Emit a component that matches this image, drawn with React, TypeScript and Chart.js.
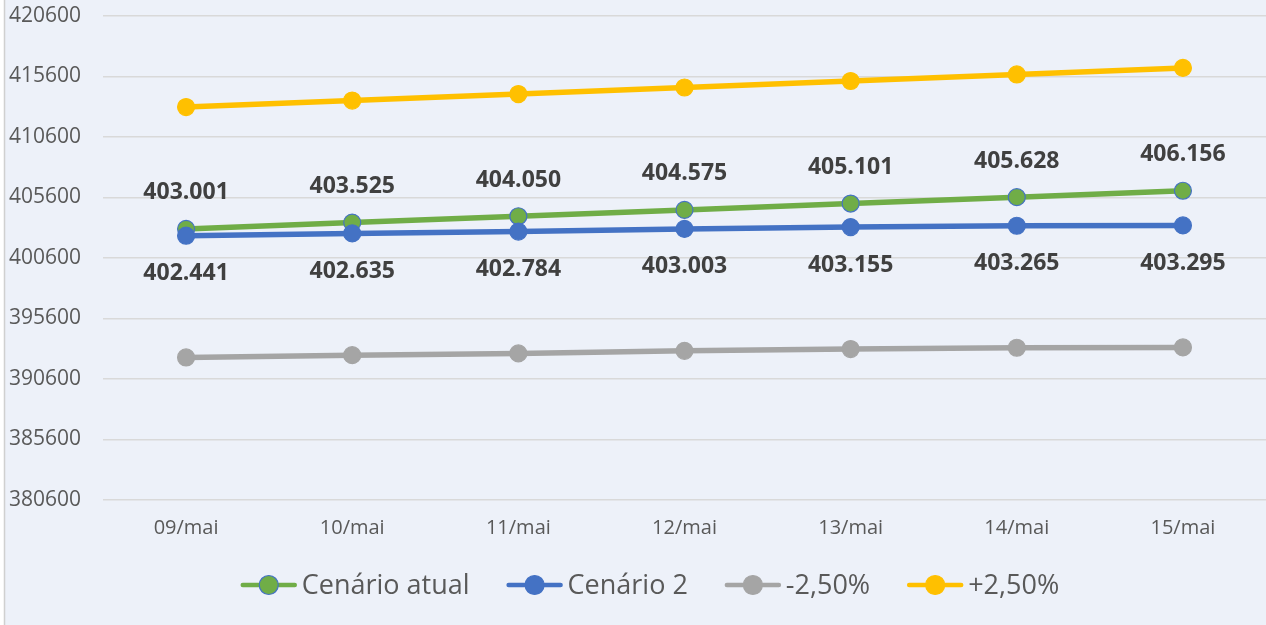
import React, { useEffect, useRef } from "react";
import { Chart, registerables } from "chart.js";

Chart.register(...registerables);

const categories = ["09/mai", "10/mai", "11/mai", "12/mai", "13/mai", "14/mai", "15/mai"];
const cenarioAtual = [403001, 403525, 404050, 404575, 405101, 405628, 406156];
const cenario2 = [402441, 402635, 402784, 403003, 403155, 403265, 403295];
const menos250 = [392380, 392569, 392714, 392928, 393076, 393183, 393213];
const mais250 = [413076, 413613, 414151, 414689, 415229, 415769, 416310];
const seriesNames = ["Cenário atual", "Cenário 2", "-2,50%", "+2,50%"];
const yMin = 380600;
const yMax = 420600;
const yStep = 5000;

const GREEN = "#70AD47";
const BLUE = "#4472C4";
const GRAY = "#A5A5A5";
const YELLOW = "#FFC000";
const FONT = "'Open Sans', 'Noto Sans', sans-serif";

const fmt = (v: number) => String(v).replace(/\B(?=(\d{3})+(?!\d))/g, ".");

const bgPlugin = {
  id: "bgPlugin",
  beforeDraw(chart: any) {
    const { ctx, width, height } = chart;
    ctx.save();
    ctx.fillStyle = "#FFFFFF";
    ctx.fillRect(0, 0, width, height);
    ctx.fillStyle = "#EDF1F9";
    ctx.fillRect(5, 0, width - 5, height);
    ctx.strokeStyle = "#D0D0D0";
    ctx.lineWidth = 1.5;
    ctx.beginPath();
    ctx.moveTo(4.5, 0);
    ctx.lineTo(4.5, height);
    ctx.stroke();
    ctx.restore();
  },
};

const labelPlugin = {
  id: "labelPlugin",
  afterDatasetsDraw(chart: any) {
    const { ctx } = chart;
    ctx.save();
    ctx.font = `bold 23px ${FONT}`;
    ctx.fillStyle = "#404040";
    ctx.textAlign = "center";
    ctx.textBaseline = "middle";
    const specs = [
      { idx: 0, dy: -36 },
      { idx: 1, dy: 38 },
    ];
    specs.forEach((s) => {
      const meta = chart.getDatasetMeta(s.idx);
      const data = chart.data.datasets[s.idx].data as number[];
      meta.data.forEach((pt: any, i: number) => {
        ctx.fillText(fmt(data[i]), pt.x, pt.y + s.dy);
      });
    });
    ctx.restore();
  },
};

const legendPlugin = {
  id: "customLegend",
  afterDraw(chart: any) {
    const { ctx } = chart;
    const items = [
      { name: seriesNames[0], color: GREEN, border: BLUE },
      { name: seriesNames[1], color: BLUE, border: BLUE },
      { name: seriesNames[2], color: GRAY, border: GRAY },
      { name: seriesNames[3], color: YELLOW, border: YELLOW },
    ];
    ctx.save();
    ctx.font = `27px ${FONT}`;
    const segW = 56;
    const gapText = 5;
    const gapItem = 37;
    const widths = items.map((it) => segW + gapText + ctx.measureText(it.name).width);
    const total = widths.reduce((a, b) => a + b, 0) + gapItem * (items.length - 1);
    let x = 650 - total / 2;
    const y = 585;
    items.forEach((it, i) => {
      ctx.strokeStyle = it.color;
      ctx.lineWidth = 4.5;
      ctx.lineCap = "round";
      ctx.beginPath();
      ctx.moveTo(x + 2, y);
      ctx.lineTo(x + segW - 2, y);
      ctx.stroke();
      ctx.beginPath();
      ctx.arc(x + segW / 2, y, 9.5, 0, Math.PI * 2);
      ctx.fillStyle = it.color;
      ctx.fill();
      ctx.lineWidth = 1.2;
      ctx.strokeStyle = it.border;
      ctx.stroke();
      ctx.fillStyle = "#595959";
      ctx.textAlign = "left";
      ctx.textBaseline = "middle";
      ctx.fillText(it.name, x + segW + gapText, y + 1);
      x += widths[i] + gapItem;
    });
    ctx.restore();
  },
};

export default function App() {
  const ref = useRef<HTMLCanvasElement | null>(null);
  useEffect(() => {
    document.body.style.margin = "0";
    if (!ref.current) return;
    const mk = (label: string, data: number[], color: string, border: string, order: number) => ({
      label,
      data,
      borderColor: color,
      backgroundColor: color,
      pointBackgroundColor: color,
      pointBorderColor: border,
      pointBorderWidth: 1.2,
      pointRadius: 8.5,
      pointHoverRadius: 8.5,
      borderWidth: 5.5,
      tension: 0,
      fill: false,
      clip: false,
      order,
    });
    const chart = new Chart(ref.current, {
      type: "line",
      data: {
        labels: categories,
        datasets: [
          mk(seriesNames[0], cenarioAtual, GREEN, BLUE, 4),
          mk(seriesNames[1], cenario2, BLUE, BLUE, 3),
          mk(seriesNames[2], menos250, GRAY, GRAY, 2),
          mk(seriesNames[3], mais250, YELLOW, YELLOW, 1),
        ],
      },
      options: {
        animation: false,
        responsive: false,
        maintainAspectRatio: false,
        layout: { autoPadding: false, padding: { top: 16, left: 8, right: 0, bottom: 77 } },
        plugins: {
          legend: { display: false },
          tooltip: { enabled: false },
        },
        scales: {
          x: {
            offset: true,
            grid: { display: false },
            border: { display: false },
            ticks: {
              color: "#595959",
              font: { family: FONT, size: 20 },
              padding: 8,
              maxRotation: 0,
            },
            afterFit: (s: any) => {
              s.paddingLeft = 0;
              s.paddingRight = 0;
            },
          },
          y: {
            min: yMin,
            max: yMax,
            border: { display: false },
            grid: { color: "#D9D9D9", lineWidth: 1.5, drawTicks: false },
            ticks: {
              stepSize: yStep,
              color: "#595959",
              font: { family: FONT, size: 21 },
              padding: 22,
              callback: (v: any) => String(v),
            },
            afterFit: (s: any) => {
              s.width = 95;
              s.paddingTop = 0;
              s.paddingBottom = 0;
            },
          },
        },
      },
      plugins: [bgPlugin, labelPlugin, legendPlugin],
    });
    return () => chart.destroy();
  }, []);
  return (
    <div style={{ position: "fixed", left: 0, top: 0, width: 1266, height: 625 }}>
      <canvas ref={ref} width={1266} height={625} style={{ width: 1266, height: 625, display: "block" }} />
    </div>
  );
}
